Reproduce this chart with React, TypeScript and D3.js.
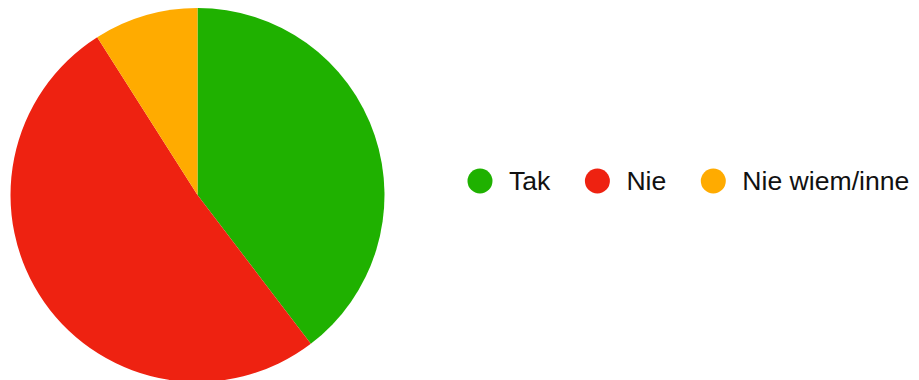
import React, { useEffect, useRef } from "react";
import * as d3 from "d3";

const categories = ["Tak", "Nie", "Nie wiem/inne"];
const values = [44, 57, 10];
const colors = ["#1fb100", "#ee2211", "#ffab00"];

export default function App() {
  const ref = useRef<SVGSVGElement | null>(null);
  useEffect(() => {
    const svg = d3.select(ref.current);
    svg.selectAll("*").remove();
    const cx = 197.5, cy = 195, r = 187;
    const pie = d3.pie<number>().sort(null).value((d) => d);
    const arc = d3.arc<d3.PieArcDatum<number>>().innerRadius(0).outerRadius(r);
    const g = svg.append("g").attr("transform", `translate(${cx},${cy})`);
    g.selectAll("path")
      .data(pie(values))
      .join("path")
      .attr("d", arc)
      .attr("fill", (_, i) => colors[i]);

    const legend = svg.append("g").attr("transform", "translate(0,181)");
    let x = 480;
    categories.forEach((c, i) => {
      legend.append("circle").attr("cx", x).attr("cy", 0).attr("r", 12.5).attr("fill", colors[i]);
      const t = legend
        .append("text")
        .attr("x", x + 29)
        .attr("y", 0)
        .attr("dy", "0.35em")
        .attr("font-family", "'Liberation Sans', Arial, Helvetica, sans-serif")
        .attr("font-size", 26.6)
        .attr("fill", "#111")
        .text(c);
      const w = (t.node() as SVGTextElement).getComputedTextLength();
      x = x + 29 + w + 47;
    });
  }, []);
  return (
    <svg
      ref={ref}
      width={919}
      height={380}
      style={{ position: "absolute", left: 0, top: 0, background: "#fff" }}
    />
  );
}
